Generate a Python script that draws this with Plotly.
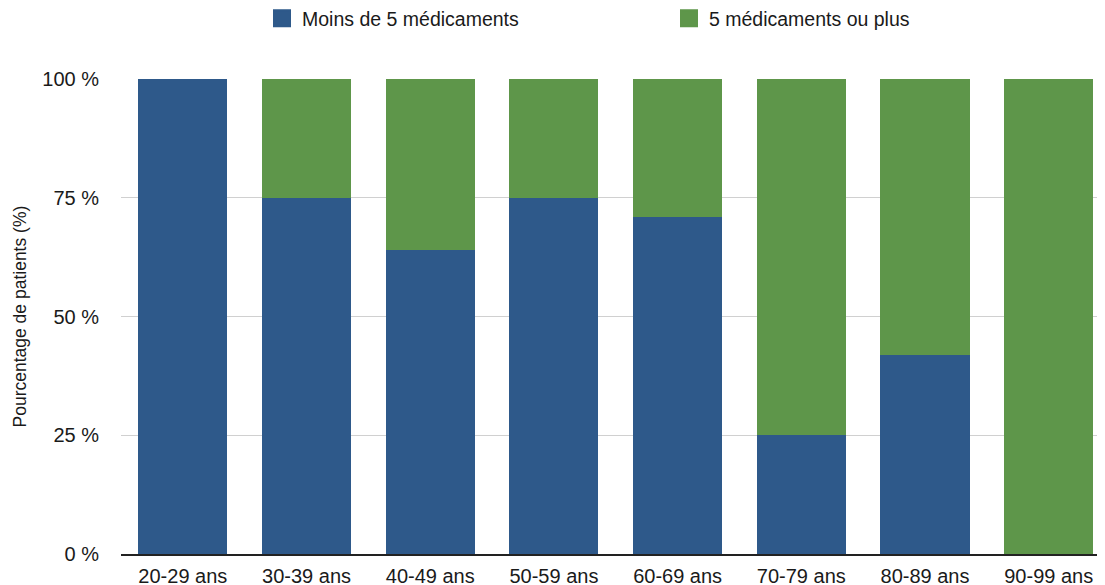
import plotly.graph_objects as go

categories = ["20-29 ans", "30-39 ans", "40-49 ans", "50-59 ans",
              "60-69 ans", "70-79 ans", "80-89 ans", "90-99 ans"]
moins_de_5 = [100, 75, 64, 75, 71, 25, 42, 0]
cinq_ou_plus = [0, 25, 36, 25, 29, 75, 58, 100]
series_names = ["Moins de 5 médicaments", "5 médicaments ou plus"]
y_tick_vals = [0, 25, 50, 75, 100]
y_tick_text = ["0 %", "25 %", "50 %", "75 %", "100 %"]
y_title = "Pourcentage de patients (%)"

BLUE = "#2E598A"
GREEN = "#5E964A"
FONT = "Liberation Sans, Arial, sans-serif"
TEXT = "#1a1a1a"

# the page body adds an 8px offset, so the figure is sized to fit the window
W, H = 1097, 577
ML, MT, MB = 113, 71, 31

fig = go.Figure()
for name, vals, col in [(series_names[0], moins_de_5, BLUE),
                        (series_names[1], cinq_ou_plus, GREEN)]:
    fig.add_trace(go.Bar(x=categories, y=vals, name=name, marker_color=col,
                         marker_line_width=0, showlegend=False))
    # legend entry with a larger square swatch
    fig.add_trace(go.Scatter(x=[None], y=[None], mode="markers", name=name,
                             marker=dict(symbol="square", size=16, color=col,
                                         line=dict(color=col, width=2)),
                             showlegend=True, hoverinfo="skip"))

plot_h = H - MT - MB
fig.update_layout(
    barmode="stack",
    bargap=0.28,
    width=W, height=H,
    margin=dict(l=ML, r=0, t=MT, b=MB, autoexpand=False),
    paper_bgcolor="white", plot_bgcolor="white",
    font=dict(family=FONT, size=19.5, color=TEXT),
    legend=dict(orientation="h", xref="container", yref="paper",
                x=254 / W, y=1 + (MT + 9) / plot_h, xanchor="left", yanchor="top",
                entrywidth=362, itemsizing="trace", traceorder="normal",
                font=dict(family=FONT, size=19.5, color=TEXT)),
    xaxis=dict(range=[-0.5, 7.455], showgrid=False, ticks="",
               showline=True, linecolor="#222222", linewidth=2,
               automargin=False,
               ticklabelstandoff=3, tickfont=dict(size=20)),
    yaxis=dict(range=[0, 100], tickvals=y_tick_vals, ticktext=y_tick_text,
               showgrid=True, gridcolor="#d0d0d0", gridwidth=1,
               zeroline=False, showline=False, ticks="", automargin=False,
               ticklabelstandoff=21, tickfont=dict(size=20)),
    annotations=[dict(text=y_title, xref="paper", yref="paper", x=0, y=0.5,
                      xshift=-102, xanchor="center", yanchor="middle",
                      textangle=-90, showarrow=False,
                      font=dict(family=FONT, size=17.5, color=TEXT))],
)

fig.write_html("out.html")
